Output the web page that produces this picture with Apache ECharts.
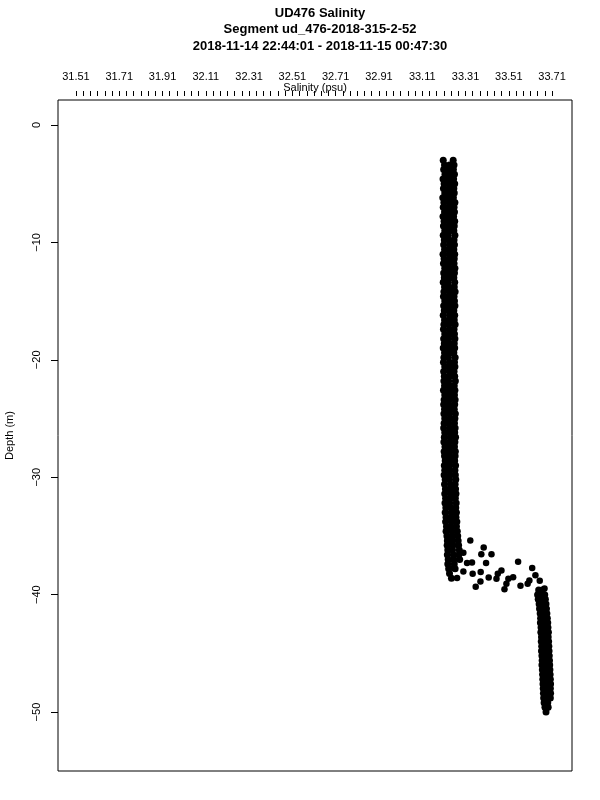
<!DOCTYPE html>
<html>
<head>
<meta charset="utf-8">
<script src="https://cdn.jsdelivr.net/npm/echarts@6/dist/echarts.min.js"></script>
<style>html,body{margin:0;padding:0;background:#fff}#c{width:600px;height:800px}</style>
</head>
<body>
<div id="c"></div>
<script>
var titleLines = ['UD476 Salinity', 'Segment ud_476-2018-315-2-52', '2018-11-14 22:44:01 - 2018-11-15 00:47:30'];
var xLabels = [31.51, 31.71, 31.91, 32.11, 32.31, 32.51, 32.71, 32.91, 33.11, 33.31, 33.51, 33.71];
var yLabels = [0, -10, -20, -30, -40, -50];

// [salinity, depth] - upper mixed layer
var upperColumn = [
[33.207,-3.0],[33.253,-3.0],
[33.213,-3.4],[33.236,-3.4],[33.257,-3.4],
[33.209,-3.8],[33.231,-3.8],[33.254,-3.8],
[33.215,-4.2],[33.240,-4.2],[33.259,-4.2],
[33.206,-4.6],[33.229,-4.6],[33.255,-4.6],
[33.211,-5.0],[33.236,-5.0],[33.260,-5.0],
[33.208,-5.4],[33.233,-5.4],[33.256,-5.4],
[33.214,-5.8],[33.238,-5.8],[33.258,-5.8],
[33.205,-6.2],[33.230,-6.2],[33.254,-6.2],
[33.210,-6.6],[33.235,-6.6],[33.261,-6.6],
[33.207,-7.0],[33.232,-7.0],[33.257,-7.0],
[33.213,-7.4],[33.239,-7.4],[33.259,-7.4],
[33.206,-7.8],[33.231,-7.8],[33.255,-7.8],
[33.211,-8.2],[33.236,-8.2],[33.260,-8.2],
[33.208,-8.6],[33.233,-8.6],[33.258,-8.6],
[33.214,-9.0],[33.237,-9.0],[33.256,-9.0],
[33.207,-9.4],[33.230,-9.4],[33.261,-9.4],
[33.212,-9.8],[33.235,-9.8],[33.257,-9.8],
[33.209,-10.2],[33.238,-10.2],[33.259,-10.2],
[33.213,-10.6],[33.232,-10.6],[33.256,-10.6],
[33.206,-11.0],[33.234,-11.0],[33.260,-11.0],
[33.211,-11.4],[33.239,-11.4],[33.258,-11.4],
[33.208,-11.8],[33.231,-11.8],[33.257,-11.8],
[33.214,-12.2],[33.236,-12.2],[33.261,-12.2],
[33.209,-12.6],[33.233,-12.6],[33.259,-12.6],
[33.212,-13.0],[33.238,-13.0],[33.256,-13.0],
[33.207,-13.4],[33.230,-13.4],[33.260,-13.4],
[33.213,-13.8],[33.235,-13.8],[33.258,-13.8],
[33.210,-14.2],[33.237,-14.2],[33.262,-14.2],
[33.208,-14.6],[33.232,-14.6],[33.257,-14.6],
[33.214,-15.0],[33.239,-15.0],[33.259,-15.0],
[33.209,-15.4],[33.234,-15.4],[33.261,-15.4],
[33.212,-15.8],[33.231,-15.8],[33.256,-15.8],
[33.207,-16.2],[33.236,-16.2],[33.260,-16.2],
[33.213,-16.6],[33.238,-16.6],[33.258,-16.6],
[33.210,-17.0],[33.233,-17.0],[33.262,-17.0],
[33.208,-17.4],[33.235,-17.4],[33.257,-17.4],
[33.214,-17.8],[33.240,-17.8],[33.259,-17.8],
[33.209,-18.2],[33.232,-18.2],[33.261,-18.2],
[33.212,-18.6],[33.237,-18.6],[33.258,-18.6],
[33.207,-19.0],[33.234,-19.0],[33.260,-19.0],
[33.213,-19.4],[33.239,-19.4],[33.256,-19.4],
[33.210,-19.8],[33.231,-19.8],[33.262,-19.8],
[33.208,-20.2],[33.236,-20.2],[33.259,-20.2],
[33.214,-20.6],[33.233,-20.6],[33.261,-20.6],
[33.209,-21.0],[33.238,-21.0],[33.257,-21.0],
[33.212,-21.4],[33.235,-21.4],[33.260,-21.4],
[33.210,-21.8],[33.232,-21.8],[33.263,-21.8],
[33.213,-22.2],[33.237,-22.2],[33.258,-22.2],
[33.208,-22.6],[33.234,-22.6],[33.261,-22.6],
[33.214,-23.0],[33.239,-23.0],[33.259,-23.0],
[33.211,-23.4],[33.236,-23.4],[33.262,-23.4],
[33.209,-23.8],[33.233,-23.8],[33.260,-23.8],
[33.213,-24.2],[33.238,-24.2],[33.258,-24.2],
[33.210,-24.6],[33.235,-24.6],[33.263,-24.6],
[33.214,-25.0],[33.240,-25.0],[33.261,-25.0],
[33.211,-25.4],[33.232,-25.4],[33.259,-25.4],
[33.209,-25.8],[33.237,-25.8],[33.262,-25.8],
[33.214,-26.2],[33.234,-26.2],[33.260,-26.2],
[33.212,-26.6],[33.239,-26.6],[33.264,-26.6],
[33.210,-27.0],[33.236,-27.0],[33.261,-27.0],
[33.215,-27.4],[33.233,-27.4],[33.259,-27.4],
[33.211,-27.8],[33.238,-27.8],[33.263,-27.8],
[33.213,-28.2],[33.235,-28.2],[33.262,-28.2],
[33.216,-28.6],[33.240,-28.6],[33.260,-28.6],
[33.212,-29.0],[33.237,-29.0],[33.264,-29.0],
[33.214,-29.4],[33.234,-29.4],[33.261,-29.4],
[33.211,-29.8],[33.239,-29.8],[33.263,-29.8],
[33.216,-30.2],[33.236,-30.2],[33.265,-30.2],
[33.213,-30.6],[33.241,-30.6],[33.262,-30.6],
[33.217,-31.0],[33.238,-31.0],[33.264,-31.0],
[33.214,-31.4],[33.243,-31.4],[33.266,-31.4],
[33.218,-31.8],[33.240,-31.8],[33.263,-31.8],
[33.215,-32.2],[33.237,-32.2],[33.267,-32.2],
[33.219,-32.6],[33.242,-32.6],[33.265,-32.6],
[33.216,-33.0],[33.244,-33.0],[33.268,-33.0],
[33.220,-33.4],[33.241,-33.4],[33.266,-33.4],
[33.218,-33.8],[33.245,-33.8],[33.270,-33.8],
[33.222,-34.2],[33.243,-34.2],[33.268,-34.2],
[33.220,-34.6],[33.247,-34.6],[33.272,-34.6],
[33.224,-35.0],[33.250,-35.0],[33.274,-35.0],
[33.226,-35.4],[33.248,-35.4],[33.276,-35.4],
[33.225,-35.8],[33.252,-35.8],[33.278,-35.8],
[33.228,-36.2],[33.250,-36.2],[33.281,-36.2],
[33.226,-36.6],[33.254,-36.6],[33.279,-36.6],
[33.230,-37.0],[33.256,-37.0],[33.283,-37.0],
[33.228,-37.4],[33.258,-37.4],
[33.232,-37.8],[33.262,-37.8],
[33.236,-38.2],
[33.245,-38.6]
];

// [salinity, depth] - scattered points across the halocline
var transition = [
[33.332,-35.39],[33.394,-35.99],[33.383,-36.55],[33.430,-36.55],
[33.340,-37.26],[33.405,-37.31],[33.553,-37.20],[33.618,-37.72],
[33.380,-38.08],[33.343,-38.23],[33.476,-37.94],[33.459,-38.23],
[33.453,-38.65],[33.417,-38.54],[33.379,-38.88],[33.357,-39.33],
[33.508,-38.65],[33.530,-38.51],[33.499,-39.08],[33.490,-39.53],
[33.564,-39.25],[33.633,-38.34],[33.653,-38.82],[33.605,-38.80],
[33.597,-39.08],[33.675,-39.48],[33.300,-38.03],[33.271,-38.59],
[33.255,-37.74],[33.317,-37.31],[33.300,-36.44]
];

// [salinity, depth] - deep layer
var lowerColumn = [
[33.648,-39.6],[33.665,-39.6],
[33.643,-40.0],[33.660,-40.0],[33.676,-40.0],
[33.646,-40.4],[33.663,-40.4],[33.679,-40.4],
[33.650,-40.8],[33.667,-40.8],[33.682,-40.8],
[33.652,-41.2],[33.669,-41.2],[33.684,-41.2],
[33.655,-41.6],[33.671,-41.6],[33.686,-41.6],
[33.657,-42.0],[33.673,-42.0],[33.688,-42.0],
[33.656,-42.4],[33.675,-42.4],[33.690,-42.4],
[33.659,-42.8],[33.676,-42.8],[33.691,-42.8],
[33.658,-43.2],[33.677,-43.2],[33.693,-43.2],
[33.661,-43.6],[33.679,-43.6],[33.692,-43.6],
[33.660,-44.0],[33.678,-44.0],[33.694,-44.0],
[33.662,-44.4],[33.680,-44.4],[33.695,-44.4],
[33.661,-44.8],[33.681,-44.8],[33.696,-44.8],
[33.663,-45.2],[33.682,-45.2],[33.697,-45.2],
[33.664,-45.6],[33.683,-45.6],[33.698,-45.6],
[33.663,-46.0],[33.684,-46.0],[33.699,-46.0],
[33.665,-46.4],[33.685,-46.4],[33.700,-46.4],
[33.666,-46.8],[33.684,-46.8],[33.701,-46.8],
[33.667,-47.2],[33.686,-47.2],[33.702,-47.2],
[33.668,-47.6],[33.687,-47.6],[33.703,-47.6],
[33.669,-48.0],[33.686,-48.0],[33.702,-48.0],
[33.670,-48.4],[33.688,-48.4],[33.703,-48.4],
[33.671,-48.8],[33.689,-48.8],[33.702,-48.8],
[33.673,-49.2],[33.690,-49.2],
[33.677,-49.6],[33.692,-49.6],
[33.682,-50.0]
];

var xTicks = [];
for (var i = 0; i < xLabels.length - 1; i++) {
  for (var k = 0; k < 6; k++) xTicks.push(+(xLabels[i] + (xLabels[i + 1] - xLabels[i]) * k / 6).toFixed(4));
}
xTicks.push(xLabels[xLabels.length - 1]);

var FONT = 'Liberation Sans, Arial, Helvetica, sans-serif';
var chart = echarts.init(document.getElementById('c'), null, {renderer: 'canvas'});
var dotStyle = {color: '#000', opacity: 1, borderWidth: 0};
chart.setOption({
  animation: false,
  backgroundColor: '#fff',
  title: {
    text: titleLines.join('\n'),
    left: 315, top: 0, textAlign: 'center',
    textStyle: {fontFamily: FONT, fontSize: 13, fontWeight: 'bold', lineHeight: 16.5, color: '#000'}
  },
  grid: {left: 58, top: 100, width: 514, height: 671, outerBoundsMode: 'none', containLabel: false,
    show: true, borderColor: '#000', borderWidth: 1, backgroundColor: 'transparent'},
  xAxis: {
    type: 'value', position: 'top', min: 31.427, max: 33.802, offset: 4,
    name: 'Salinity (psu)', nameLocation: 'middle', nameGap: 8, nameMoveOverlap: false,
    nameTextStyle: {fontFamily: FONT, fontSize: 11, color: '#000', verticalAlign: 'middle'},
    axisLine: {show: false, onZero: false},
    axisTick: {show: true, customValues: xTicks, length: 5, lineStyle: {color: '#000', width: 1}},
    axisLabel: {customValues: xLabels, fontFamily: FONT, fontSize: 11, color: '#000', margin: 14,
      formatter: function (v) { return v.toFixed(2); }},
    splitLine: {show: false}
  },
  yAxis: {
    type: 'value', min: -55.02, max: 2.13,
    name: 'Depth (m)', nameLocation: 'middle', nameGap: 48, nameRotate: 90, nameMoveOverlap: false,
    nameTextStyle: {fontFamily: FONT, fontSize: 11, color: '#000', verticalAlign: 'middle'},
    axisLine: {show: false, onZero: false},
    axisTick: {show: true, customValues: yLabels, length: 7, lineStyle: {color: '#000', width: 1}},
    axisLabel: {customValues: yLabels, rotate: 90, fontFamily: FONT, fontSize: 11, color: '#000', margin: 16,
      formatter: function (v) { return String(v).replace('-', '\u2212'); }},
    splitLine: {show: false}
  },
  series: [
    {type: 'scatter', data: upperColumn, symbol: 'circle', symbolSize: 7, itemStyle: dotStyle},
    {type: 'scatter', data: transition, symbol: 'circle', symbolSize: 6.5, itemStyle: dotStyle},
    {type: 'scatter', data: lowerColumn, symbol: 'circle', symbolSize: 7, itemStyle: dotStyle}
  ]
});
</script>
</body>
</html>
